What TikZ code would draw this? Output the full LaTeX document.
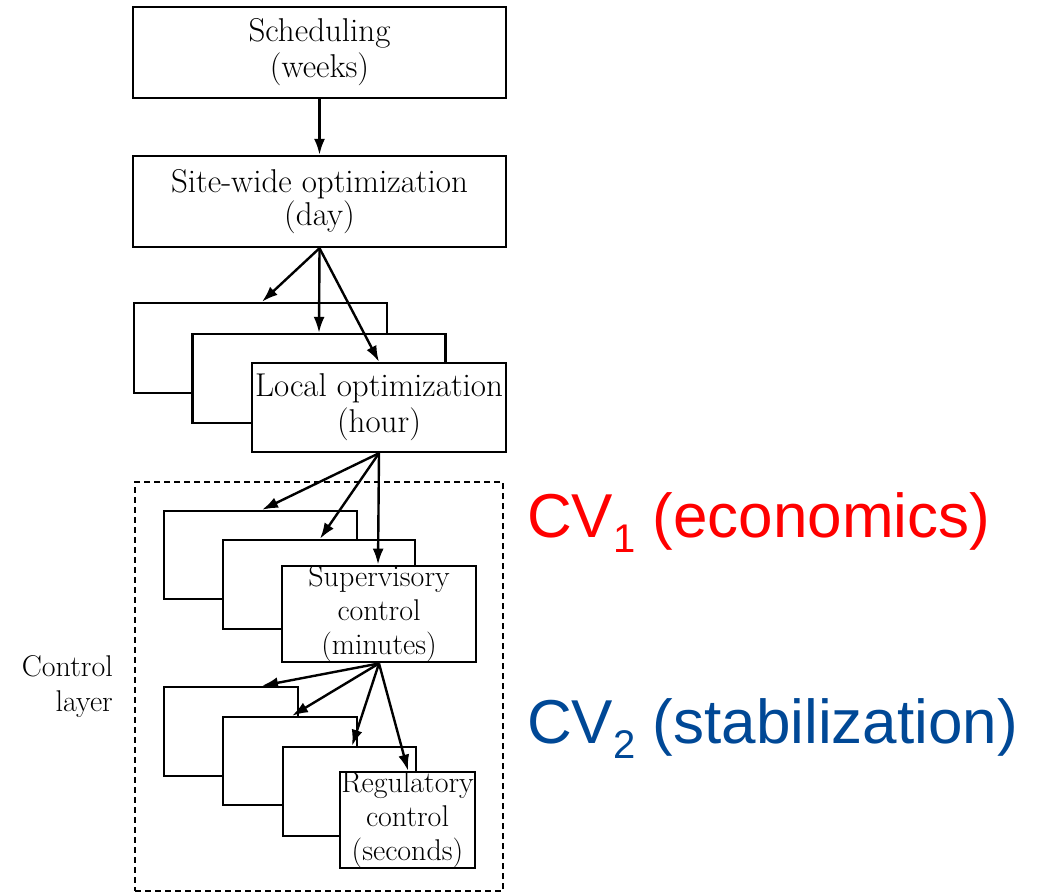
\documentclass[tikz,border=0pt]{standalone}
\usepackage{fontspec}
\newfontfamily\cvfont{Liberation Sans}
\usetikzlibrary{arrows.meta,calc}
\definecolor{cvred}{RGB}{255,0,0}
\definecolor{cvblue}{RGB}{0,72,150}
\tikzset{
  box/.style={draw=black, fill=white, line width=2.4pt, rectangle, inner sep=0pt,
              align=center, font=\fontsize{33}{36}\selectfont},
  smallbox/.style={box, font=\fontsize{30}{34}\selectfont},
  link/.style={line width=2.4pt, -{Latex[length=16pt,width=11pt]}},
  layerbox/.style={draw=black, line width=2.2pt, dash pattern=on 6pt off 4pt, rectangle, inner sep=0pt},
  cvlabel/.style={anchor=base west, inner sep=0pt, font=\cvfont\fontsize{62}{70}\selectfont}
}
\newcommand{\cvsub}[1]{\raisebox{-15pt}{\fontsize{40}{40}\selectfont #1}}
\begin{document}
\begin{tikzpicture}[x=1pt,y=-1pt]
\useasboundingbox (0,0) rectangle (1040,894);

% control layer frame
\node[layerbox, minimum width=368, minimum height=409] (layer) at (319,686.5) {};
\node[anchor=east, align=right, inner sep=0pt, font=\fontsize{30}{35}\selectfont] (layerlbl) at (113,687) {Control\\layer};

% top level
\node[box, minimum width=373, minimum height=91] (sched) at (319.5,52.5) {Scheduling\\(weeks)};
\node[box, minimum width=373, minimum height=91, font=\fontsize{33}{33}\selectfont] (site) at (319.5,201.5) {Site-wide optimization\\(day)};

% local optimization stack
\node[box, minimum width=253, minimum height=90] (loc1) at (260.5,348) {};
\node[box, minimum width=253, minimum height=89] (loc2) at (319,378.5) {};
\node[box, minimum width=254, minimum height=89] (loc3) at (379,407.5) {Local optimization\\(hour)};

% supervisory control stack
\node[smallbox, minimum width=193, minimum height=88] (sup1) at (260.5,555) {};
\node[smallbox, minimum width=192, minimum height=89] (sup2) at (319,584.5) {};
\node[smallbox, minimum width=194, minimum height=90] (sup3) at (379,614) {Supervisory\\control\\(minutes)};

% regulatory control stack
\node[smallbox, minimum width=134, minimum height=89] (reg1) at (231,731.5) {};
\node[smallbox, minimum width=134, minimum height=88] (reg2) at (290,761) {};
\node[smallbox, minimum width=133, minimum height=89] (reg3) at (349.5,791.5) {};
\node[smallbox, minimum width=135, minimum height=92] (reg4) at (407.5,820) {Regulatory\\control\\(seconds)};

% connectors
\draw[link] (sched.south) -- (site.north);
\draw[link] (site.south) -- ([xshift=1.5pt]loc1.north);
\draw[link] (site.south) -- (loc2.north);
\draw[link] (site.south) -- (loc3.north);

\draw[link] (loc3.south) -- ([xshift=1.5pt]sup1.north);
\draw[link] (loc3.south) -- ([xshift=1pt]sup2.north);
\draw[link] (loc3.south) -- ([xshift=-1pt]sup3.north);

\draw[link] (sup3.south) -- ([xshift=31pt]reg1.north);
\draw[link] (sup3.south) -- ([xshift=2pt]reg2.north);
\draw[link] (sup3.south) -- ([xshift=2.5pt]reg3.north);
\draw[link] (sup3.south) -- ([xshift=0.5pt]reg4.north);

% controlled variable labels
\node[cvlabel, text=cvred] (cv1) at (527,537) {CV\cvsub{1} (economics)};
\node[cvlabel, text=cvblue] (cv2) at (527,743) {CV\cvsub{2} (stabilization)};
\end{tikzpicture}
\end{document}
